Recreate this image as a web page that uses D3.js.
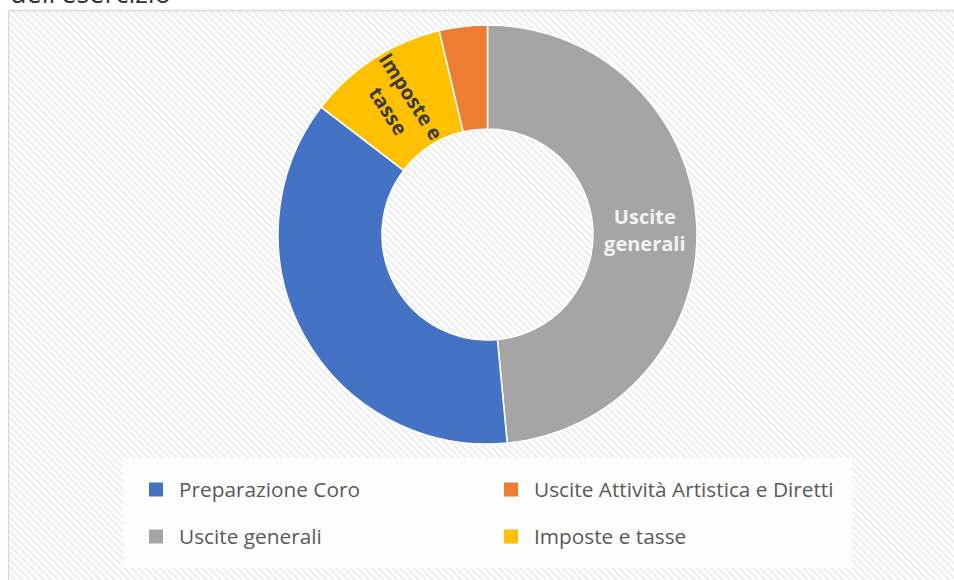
<!DOCTYPE html>
<html lang="it">

<head>
    <meta charset="UTF-8" />
    <title>Uscite dell'esercizio</title>
    <script src="https://d3js.org/d3.v7.min.js"></script>
    <style>
        body {
            margin: 0;
            background: #fff;
        }
        
        svg {
            display: block;
            font-family: "Open Sans", "Noto Sans", sans-serif;
        }
    </style>
</head>

<body>
    <div id="chart"></div>

    <script>
        // dati (percentuali)
        const categories = ["Preparazione Coro", "Uscite Attività Artistica e Diretti", "Uscite generali", "Imposte e tasse"];
        const values = [36.9, 3.7, 48.5, 10.9];
        const colors = ["#4472C4", "#ED7D31", "#A5A5A5", "#FFC000"];
        // ordine delle fette in senso orario partendo dalle ore 12
        const sliceOrder = ["Uscite generali", "Preparazione Coro", "Imposte e tasse", "Uscite Attività Artistica e Diretti"];
        const labelLines = {
            "Uscite generali": ["Uscite", "generali"],
            "Imposte e tasse": ["Imposte e", "tasse"]
        };
        const rotatedLabels = ["Imposte e tasse"];

        const width = 954;
        const height = 580;
        const cx = 487.5;
        const cy = 234.5;
        const outerR = 209.5;
        const innerR = 105.5;

        const svg = d3.select("#chart")
            .append("svg")
            .attr("width", width)
            .attr("height", height);

        // titolo tagliato in alto
        svg.append("text")
            .attr("x", 10)
            .attr("y", 3)
            .attr("font-size", 27)
            .attr("fill", "#333")
            .text("dell'esercizio");

        // sfondo a righe
        const defs = svg.append("defs");
        const pattern = defs.append("pattern")
            .attr("id", "hatch")
            .attr("patternUnits", "userSpaceOnUse")
            .attr("width", 5)
            .attr("height", 5)
            .attr("patternTransform", "rotate(-45)");
        pattern.append("rect")
            .attr("width", 5)
            .attr("height", 5)
            .attr("fill", "#ffffff");
        pattern.append("rect")
            .attr("width", 2.2)
            .attr("height", 5)
            .attr("fill", "#ededed");

        svg.append("rect")
            .attr("x", 8.5)
            .attr("y", 10.5)
            .attr("width", 980)
            .attr("height", 620)
            .attr("fill", "url(#hatch)")
            .attr("stroke", "#d9d9d9")
            .attr("stroke-width", 1.5);

        const data = sliceOrder.map(name => {
            const i = categories.indexOf(name);
            return {
                name,
                value: values[i],
                color: colors[i]
            };
        });

        const pie = d3.pie()
            .sort(null)
            .value(d => d.value)
            .startAngle(0)
            .endAngle(2 * Math.PI);

        const arc = d3.arc()
            .innerRadius(innerR)
            .outerRadius(outerR);

        const g = svg.append("g")
            .attr("transform", `translate(${cx},${cy})`);

        const arcs = pie(data);

        g.selectAll("path.slice")
            .data(arcs)
            .join("path")
            .attr("class", "slice")
            .attr("d", arc)
            .attr("fill", d => d.data.color)
            .attr("stroke", "#fff")
            .attr("stroke-width", 1.5);

        // etichette dati
        const lineH = 27;
        arcs.filter(d => labelLines[d.data.name]).forEach(d => {
            const [lx, ly] = arc.centroid(d);
            const mid = (d.startAngle + d.endAngle) / 2 * 180 / Math.PI;
            const rot = rotatedLabels.includes(d.data.name) ? mid - 270 : 0;
            const lines = labelLines[d.data.name];
            const t = g.append("text")
                .attr("transform", `translate(${lx},${ly}) rotate(${rot})`)
                .attr("text-anchor", "middle")
                .attr("font-size", 20)
                .attr("font-weight", "bold")
                .attr("fill", rot ? "#3a3a3a" : "#f2f2f2");
            lines.forEach((line, i) => {
                t.append("tspan")
                    .attr("x", 0)
                    .attr("y", (i - (lines.length - 1) / 2) * lineH + 3)
                    .attr("dy", "0.35em")
                    .text(line);
            });
        });

        // legenda
        const legendBox = {
            x: 123,
            y: 458,
            w: 729,
            h: 110
        };
        svg.append("rect")
            .attr("x", legendBox.x)
            .attr("y", legendBox.y)
            .attr("width", legendBox.w)
            .attr("height", legendBox.h)
            .attr("fill", "#fff")
            .attr("fill-opacity", 0.82);

        const colX = [149, 504];
        const rowY = [497, 544];
        const legend = svg.append("g").attr("class", "legend");
        categories.forEach((name, i) => {
            const col = i % 2;
            const row = Math.floor(i / 2);
            const item = legend.append("g")
                .attr("transform", `translate(${colX[col]},${rowY[row]})`);
            item.append("rect")
                .attr("x", 0)
                .attr("y", -14.5)
                .attr("width", 14)
                .attr("height", 14)
                .attr("fill", colors[i]);
            item.append("text")
                .attr("x", 30)
                .attr("y", 0)
                .attr("font-size", 20.8)
                .attr("fill", "#595959")
                .text(name);
        });
    </script>
</body>

</html>
